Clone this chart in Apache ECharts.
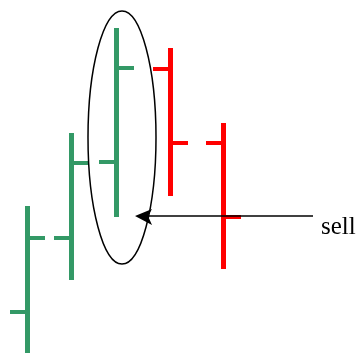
<!DOCTYPE html>
<html>
<head>
<meta charset="utf-8">
<script src="https://cdn.jsdelivr.net/npm/echarts@6/dist/echarts.min.js"></script>
<style>
html, body { margin: 0; padding: 0; background: #fff; }
#chart { width: 359px; height: 353px; }
</style>
</head>
<body>
<div id="chart"></div>
<script>
// bar positions on the time axis and OHLC prices
var times = [27.5, 71.5, 116.5, 170.5, 223.5];
var opens = [41, 115, 191, 284, 210];
var highs = [147, 220, 325, 305, 230];
var lows = [0, 73, 136, 157, 84];
var closes = [115, 190, 285, 210, 136];
var barColors = ["#339966", "#339966", "#339966", "#ff0000", "#ff0000"];

// annotation: ellipse round the third bar, arrow with label
var ellipseBox = [122, 215.5, 34, 126.5]; // cx, cy, rx, ry (data units)
var arrowFrom = [313, 137];
var arrowTo = [135, 137];
var arrowLabel = "sell";

var bars = times.map(function (t, i) {
    return [t, opens[i], highs[i], lows[i], closes[i], i];
});

function renderBar(params, api) {
    var t = api.value(0);
    var o = api.coord([t, api.value(1)]);
    var h = api.coord([t, api.value(2)]);
    var l = api.coord([t, api.value(3)]);
    var c = api.coord([t, api.value(4)]);
    var color = barColors[api.value(5)];
    var half = 2.5, tick = 15, th = 4;
    return {
        type: "group",
        children: [
            { type: "rect", shape: { x: h[0] - half, y: h[1], width: half * 2, height: l[1] - h[1] }, style: { fill: color } },
            { type: "rect", shape: { x: o[0] - half - tick, y: o[1] - th / 2, width: tick + half, height: th }, style: { fill: color } },
            { type: "rect", shape: { x: c[0], y: c[1] - th / 2, width: tick + half, height: th }, style: { fill: color } }
        ]
    };
}

function renderNote(params, api) {
    var ctr = api.coord([ellipseBox[0], ellipseBox[1]]);
    var edge = api.coord([ellipseBox[0] + ellipseBox[2], ellipseBox[1] + ellipseBox[3]]);
    var rx = edge[0] - ctr[0], ry = ctr[1] - edge[1];
    var a = api.coord(arrowFrom);
    var b = api.coord(arrowTo);
    return {
        type: "group",
        children: [
            { type: "ellipse", shape: { cx: ctr[0], cy: ctr[1], rx: rx, ry: ry }, style: { fill: "none", stroke: "#000", lineWidth: 1.5 } },
            { type: "line", shape: { x1: a[0], y1: a[1], x2: b[0] + 8, y2: b[1] }, style: { stroke: "#000", lineWidth: 1.5 } },
            { type: "polygon", shape: { points: [[b[0], b[1]], [b[0] + 17, b[1] - 7], [b[0] + 13, b[1]], [b[0] + 17, b[1] + 9]] }, style: { fill: "#000" } },
            { type: "text", x: a[0] + 8, y: a[1] + 11, style: { text: arrowLabel, font: "25px 'Liberation Serif', 'Times New Roman', serif", fill: "#000", textVerticalAlign: "middle" } }
        ]
    };
}

var chart = echarts.init(document.getElementById("chart"));
chart.setOption({
    animation: false,
    grid: { left: 0, right: 0, top: 0, bottom: 0 },
    xAxis: { type: "value", min: 0, max: 359, show: false },
    yAxis: { type: "value", min: 0, max: 353, show: false },
    series: [
        { type: "custom", renderItem: renderBar, data: bars, clip: false },
        { type: "custom", renderItem: renderNote, data: [[0, 0]], clip: false, silent: true }
    ]
});
</script>
</body>
</html>
